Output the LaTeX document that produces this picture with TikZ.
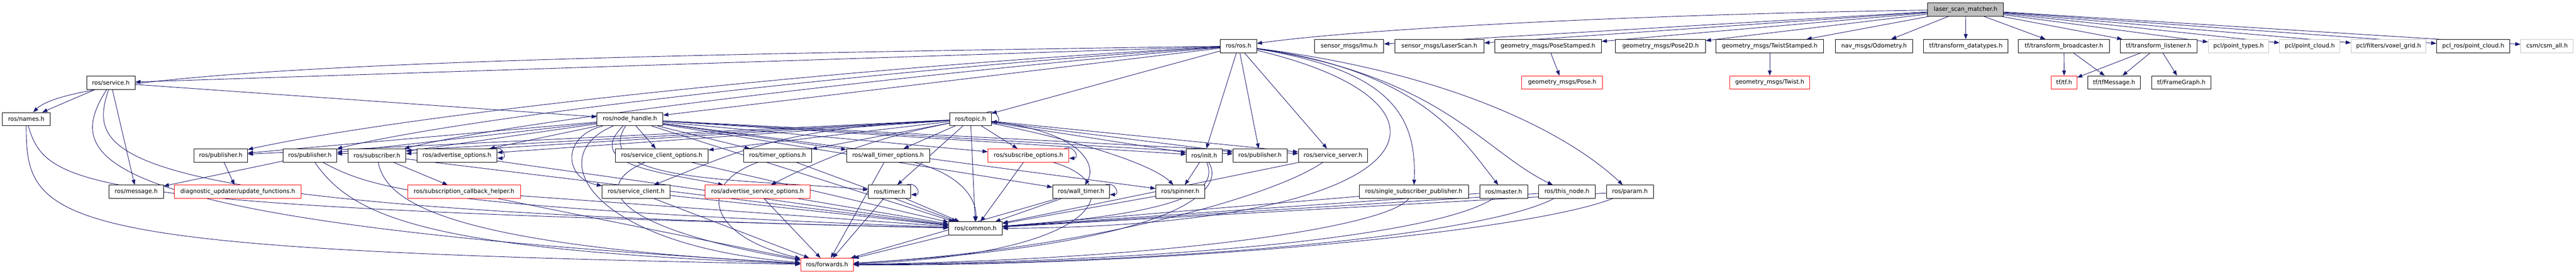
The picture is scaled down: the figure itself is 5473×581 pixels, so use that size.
\documentclass[tikz,border=0pt]{standalone}
\usepackage{fontspec}
\setmainfont{DejaVu Sans}
\usetikzlibrary{arrows.meta,backgrounds}
\definecolor{edgec}{HTML}{191970}
\definecolor{greyf}{HTML}{BFBFBF}
\definecolor{greyb}{HTML}{C4C4C4}
\begin{document}
\begin{tikzpicture}[x=1pt,y=-1pt,
  box/.style={draw=black,fill=white,line width=1pt,minimum height=28pt,inner sep=0pt,font=\fontsize{12.5}{14}\selectfont},
  rbox/.style={box,draw=red},
  gbox/.style={box,draw=greyb},
  rootbox/.style={box,fill=greyf},
  e/.style={draw=edgec,line width=1pt,-{Triangle[length=11pt,width=8pt]}},
]
\useasboundingbox (0,0) rectangle (5473,581);
% row 1
\node[rootbox,minimum width=161pt] (root) at (4176,20.4) {laser\_scan\_matcher.h};
% row 2
\node[box,minimum width=77pt] (rosh) at (2631.4,97.6) {ros/ros.h};
\node[box,minimum width=147pt] (imu) at (2866.5,97.6) {sensor\_msgs/Imu.h};
\node[box,minimum width=190pt] (laser) at (3058,97.6) {sensor\_msgs/LaserScan.h};
\node[box,minimum width=227pt] (posest) at (3289,97.6) {geometry\_msgs/PoseStamped.h};
\node[box,minimum width=191pt] (pose2d) at (3528,97.6) {geometry\_msgs/Pose2D.h};
\node[box,minimum width=229pt] (twistst) at (3760,97.6) {geometry\_msgs/TwistStamped.h};
\node[box,minimum width=164pt] (odom) at (3981.5,97.6) {nav\_msgs/Odometry.h};
\node[box,minimum width=180pt] (tfdt) at (4176.6,97.6) {tf/transform\_datatypes.h};
\node[box,minimum width=193pt] (tfbc) at (4385,97.6) {tf/transform\_broadcaster.h};
\node[box,minimum width=163pt] (tfl) at (4586,97.6) {tf/transform\_listener.h};
\node[gbox,minimum width=129pt] (pcltypes) at (4756,97.6) {pcl/point\_types.h};
\node[gbox,minimum width=128pt] (pclcloud) at (4907.4,97.6) {pcl/point\_cloud.h};
\node[gbox,minimum width=159pt] (voxel) at (5074.7,97.6) {pcl/filters/voxel\_grid.h};
\node[box,minimum width=156pt] (pclros) at (5254.7,97.6) {pcl\_ros/point\_cloud.h};
\node[gbox,minimum width=112pt] (csm) at (5411.4,97.6) {csm/csm\_all.h};
% row 3
\node[box,minimum width=103pt] (service) at (235.4,175.6) {ros/service.h};
\node[rbox,minimum width=172pt] (pose) at (3319,175) {geometry\_msgs/Pose.h};
\node[rbox,minimum width=170pt] (twist) at (3760,175) {geometry\_msgs/Twist.h};
\node[rbox,minimum width=54pt] (tftf) at (4385.5,175) {tf/tf.h};
\node[box,minimum width=112pt] (tfmsg) at (4491.7,175) {tf/tfMessage.h};
\node[box,minimum width=125pt] (fg) at (4634.4,175) {tf/FrameGraph.h};
% row 4
\node[box,minimum width=102pt] (names) at (55.8,252.7) {ros/names.h};
\node[box,minimum width=140pt] (nh) at (1338.5,252.7) {ros/node\_handle.h};
\node[box,minimum width=88pt] (topic) at (2062,252.7) {ros/topic.h};
% row 5
\node[box,minimum width=114pt] (pub1) at (469,329.7) {ros/publisher.h};
\node[box,minimum width=114pt] (pub2) at (658.4,329.7) {ros/publisher.h};
\node[box,minimum width=123pt] (sub) at (800.8,329.7) {ros/subscriber.h};
\node[box,minimum width=170pt] (advopt) at (971,329.7) {ros/advertise\_options.h};
\node[box,minimum width=197pt] (sco) at (1406,329.7) {ros/service\_client\_options.h};
\node[box,minimum width=144pt] (topt) at (1652,329.7) {ros/timer\_options.h};
\node[box,minimum width=176pt] (wtopt) at (1886.7,329.7) {ros/wall\_timer\_options.h};
\node[rbox,minimum width=172pt] (subopt) at (2185,329.7) {ros/subscribe\_options.h};
\node[box,minimum width=76pt] (init) at (2558.5,329.7) {ros/init.h};
\node[box,minimum width=115pt] (pub3) at (2677,329.7) {ros/publisher.h};
\node[box,minimum width=147pt] (ss) at (2832,329.7) {ros/service\_server.h};
% row 6
\node[box,minimum width=116pt] (msg) at (289.4,406.8) {ros/message.h};
\node[rbox,minimum width=269pt] (duf) at (505.1,406.8) {diagnostic\_updater/update\_functions.h};
\node[rbox,minimum width=239pt] (sch) at (986,406.8) {ros/subscription\_callback\_helper.h};
\node[box,minimum width=144pt] (sc) at (1351.5,406.8) {ros/service\_client.h};
\node[rbox,minimum width=223pt] (aso) at (1609.3,406.8) {ros/advertise\_service\_options.h};
\node[box,minimum width=90pt] (timer) at (1890,406.8) {ros/timer.h};
\node[box,minimum width=121pt] (wt) at (2296.8,406.8) {ros/wall\_timer.h};
\node[box,minimum width=104pt] (spin) at (2507.6,406.8) {ros/spinner.h};
\node[box,minimum width=232pt] (ssp) at (3003.6,406.8) {ros/single\_subscriber\_publisher.h};
\node[box,minimum width=102pt] (master) at (3194.7,406.8) {ros/master.h};
\node[box,minimum width=120pt] (thisnode) at (3329,406.8) {ros/this\_node.h};
\node[box,minimum width=100pt] (param) at (3463,406.8) {ros/param.h};
% row 7, 8
\node[box,minimum width=114pt] (common) at (2072.6,484.6) {ros/common.h};
\node[rbox,minimum width=112pt] (fwd) at (1757,561.7) {ros/forwards.h};

\begin{scope}[on background layer]
\fill[white] (0,0) rectangle (5473,581);
% root
\draw[e] (root) .. controls (3500,30) and (2900,60) .. (rosh);
\draw[e] (root) -- (imu);
\draw[e] (root) -- (laser);
\draw[e] (root) -- (posest);
\draw[e] (root) -- (pose2d);
\draw[e] (root) -- (twistst);
\draw[e] (root) -- (odom);
\draw[e] (root) -- (tfdt);
\draw[e] (root) -- (tfbc);
\draw[e] (root) -- (tfl);
\draw[e] (root) -- (pcltypes);
\draw[e] (root) -- (pclcloud);
\draw[e] (root) -- (voxel);
\draw[e] (root) -- (pclros);
\draw[e] (root) -- (csm);
\draw[e] (posest) -- (pose);
\draw[e] (twistst) -- (twist);
\draw[e] (tfbc) -- (tftf);
\draw[e] (tfbc) -- (tfmsg);
\draw[e] (tfl) -- (tftf);
\draw[e] (tfl) -- (tfmsg);
\draw[e] (tfl) -- (fg);
% ros.h
\draw[e] (rosh) .. controls (1200,118) and (170,140) .. (names);
\draw[e] (rosh) -- (service);
\draw[e] (rosh) -- (nh);
\draw[e] (rosh) -- (topic);
\draw[e] (rosh) .. controls (1900,135) and (900,235) .. (pub1);
\draw[e] (rosh) .. controls (1900,145) and (1000,245) .. (pub2);
\draw[e] (rosh) .. controls (1950,155) and (1100,255) .. (sub);
\draw[e] (rosh) -- (init);
\draw[e] (rosh) -- (pub3);
\draw[e] (rosh) -- (ss);
\draw[e] (rosh) .. controls (2960,150) and (3010,250) .. (ssp);
\draw[e] (rosh) .. controls (3020,150) and (3110,300) .. (master);
\draw[e] (rosh) .. controls (3060,160) and (3150,320) .. (thisnode);
\draw[e] (rosh) .. controls (3120,160) and (3350,300) .. (param);
\draw[e] (rosh) .. controls (3150,220) and (3050,480) .. (common);
% service.h, names.h
\draw[e] (service) -- (names);
\draw[e] (service) -- (msg);
\draw[e] (service) -- (nh);
\draw[e] (service) .. controls (185,330) and (200,445) .. (common);
\draw[e] (service) .. controls (140,330) and (140,470) .. (fwd);
\draw[e] (names) .. controls (100,400) and (170,440) .. (common);
\draw[e] (names) .. controls (55,480) and (110,530) .. (fwd);
% node_handle.h
\draw[e] (nh) -- (pub1);
\draw[e] (nh) -- (pub2);
\draw[e] (nh) -- (sub);
\draw[e] (nh) -- (advopt);
\draw[e] (nh) -- (sco);
\draw[e] (nh) -- (topt);
\draw[e] (nh) -- (wtopt);
\draw[e] (nh) -- (subopt);
\draw[e] (nh) .. controls (1190,290) and (1200,380) .. (sc);
\draw[e] (nh) .. controls (1240,350) and (1400,365) .. (aso);
\draw[e] (nh) .. controls (1250,390) and (1600,380) .. (timer);
\draw[e] (nh) -- (wt);
\draw[e] (nh) -- (init);
\draw[e] (nh) -- (pub3);
\draw[e] (nh) -- (ss);
\draw[e] (nh) -- (spin);
\draw[e] (nh) -- (common);
\draw[e] (nh) .. controls (1150,330) and (1250,520) .. (fwd);
% topic.h
\draw[e] (topic) -- (pub1);
\draw[e] (topic) -- (pub2);
\draw[e] (topic) -- (sub);
\draw[e] (topic) -- (advopt);
\draw[e] (topic) -- (sco);
\draw[e] (topic) -- (topt);
\draw[e] (topic) -- (wtopt);
\draw[e] (topic) -- (subopt);
\draw[e] (topic) .. controls (1650,270) and (1550,330) .. (sc);
\draw[e] (topic) .. controls (1870,290) and (1760,330) .. (aso);
\draw[e] (topic) -- (timer);
\draw[e] (topic) .. controls (2300,280) and (2330,350) .. (wt);
\draw[e] (topic) -- (init);
\draw[e] (topic) -- (pub3);
\draw[e] (topic) -- (ss);
\draw[e] (topic) .. controls (2300,300) and (2450,350) .. (spin);
\draw[e] (topic) -- (common);
\draw[e] ([xshift=-10pt]topic.north east) .. controls +(22,-8) and +(22,0) .. ([yshift=-6pt]topic.east);
% lower
\draw[e] (pub1) -- (duf);
\draw[e] (pub2) -- (msg);
\draw[e] (pub2) .. controls (790,400) and (900,440) .. (common);
\draw[e] (pub2) .. controls (750,460) and (900,530) .. (fwd);
\draw[e] (sub) -- (sch);
\draw[e] (sub) -- (common);
\draw[e] (sub) .. controls (820,430) and (950,520) .. (fwd);
\draw[e] (advopt) -- (common);
\draw[e] ([xshift=-10pt]advopt.north east) .. controls +(22,-8) and +(22,0) .. ([yshift=-6pt]advopt.east);
\draw[e] (sch) -- (common);
\draw[e] (sch) -- (fwd);
\draw[e] (sco) -- (common);
\draw[e] (sco) .. controls (1260,390) and (1280,480) .. (fwd);
\draw[e] (topt) -- (common);
\draw[e] (topt) .. controls (1480,390) and (1500,500) .. (fwd);
\draw[e] (wtopt) -- (fwd);
\draw[e] (wtopt) .. controls (2040,370) and (2075,420) .. (common);
\draw[e] (subopt) -- (common);
\draw[e] (subopt) .. controls (2400,390) and (2350,540) .. (fwd);
\draw[e] ([xshift=-10pt]subopt.north east) .. controls +(22,-8) and +(22,0) .. ([yshift=-6pt]subopt.east);
\draw[e] (sc) -- (common);
\draw[e] (sc) -- (fwd);
\draw[e] (aso) -- (common);
\draw[e] (aso) -- (fwd);
\draw[e] (timer) -- (common);
\draw[e] (timer) -- (fwd);
\draw[e] ([xshift=-10pt]timer.north east) .. controls +(22,-8) and +(22,0) .. ([yshift=-6pt]timer.east);
\draw[e] (wt) -- (common);
\draw[e] (wt) -- (fwd);
\draw[e] ([xshift=-10pt]wt.north east) .. controls +(22,-8) and +(22,0) .. ([yshift=-6pt]wt.east);
\draw[e] (init) -- (spin);
\draw[e] (init) .. controls (2585,400) and (2540,450) .. (common);
\draw[e] (init) .. controls (2610,410) and (2480,520) .. (fwd);
\draw[e] (ss) -- (common);
\draw[e] (ss) .. controls (2700,420) and (2300,530) .. (fwd);
\draw[e] (spin) -- (common);
\draw[e] (ssp) -- (common);
\draw[e] (ssp) .. controls (2950,480) and (2500,550) .. (fwd);
\draw[e] (master) -- (common);
\draw[e] (master) .. controls (3050,500) and (2500,555) .. (fwd);
\draw[e] (thisnode) -- (common);
\draw[e] (thisnode) .. controls (3150,500) and (2500,560) .. (fwd);
\draw[e] (param) -- (common);
\draw[e] (param) .. controls (3250,490) and (2500,565) .. (fwd);
\draw[e] (common) -- (fwd);
\end{scope}
\end{tikzpicture}
\end{document}
